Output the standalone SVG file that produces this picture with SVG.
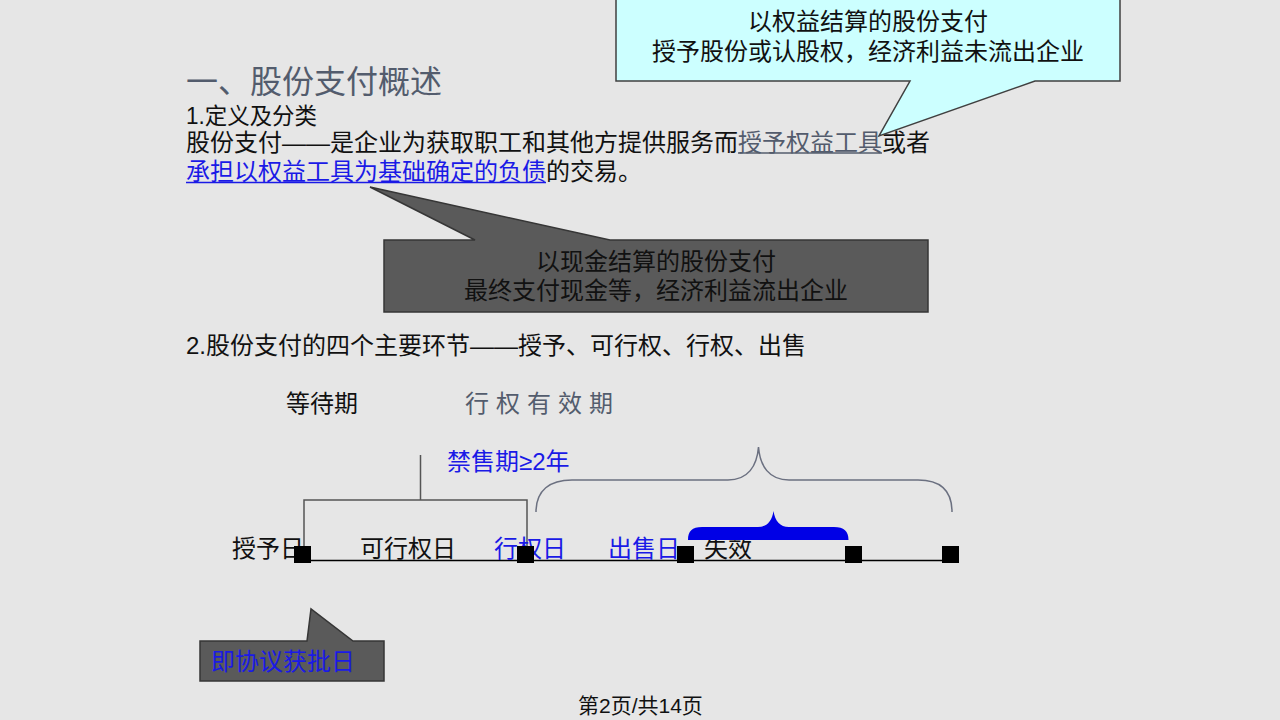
<svg xmlns="http://www.w3.org/2000/svg" width="1280" height="720" viewBox="0 0 1280 720">
<style>
text{font-family:"Liberation Sans","Noto Sans CJK SC",sans-serif;font-size:24px;fill:#111}
.slate{fill:#535c6d}
.blue{fill:#1a1ae6}
.ctr{text-anchor:middle}
.sq{fill:#000}
</style>
<rect x="0" y="0" width="1280" height="720" fill="#e6e6e6"/>

<g id="title">
<text x="186" y="93" class="slate" style="font-size:32px" textLength="256" lengthAdjust="spacingAndGlyphs">一、股份支付概述</text>
<text x="186" y="124" style="font-size:23px" textLength="131" lengthAdjust="spacingAndGlyphs">1.定义及分类</text>
<text x="186" y="151">股份支付——是企业为获取职工和其他方提供服务而<tspan class="slate">授予权益工具</tspan>或者</text>
<line x1="738" y1="153" x2="882" y2="153" stroke="#535c6d" stroke-width="1.5"/>
<text x="186" y="180"><tspan class="blue">承担以权益工具为基础确定的负债</tspan>的交易。</text>
<line x1="186" y1="182.5" x2="546" y2="182.5" stroke="#1a1ae6" stroke-width="1.5"/>
<text x="186" y="354">2.股份支付的四个主要环节——授予、可行权、行权、出售</text>
</g>

<g id="callout-equity">
<path d="M616,-2 L1120,-2 L1120,81 L1035,81 L879,136 L910,81 L616,81 Z" fill="#ccffff" stroke="#404040" stroke-width="1.5"/>
<text x="868" y="30" class="ctr">以权益结算的股份支付</text>
<text x="868" y="60" class="ctr">授予股份或认股权，经济利益未流出企业</text>
</g>

<g id="callout-cash">
<path d="M384,240 L475,240 L370,187 L610,240 L928,240 L928,312 L384,312 Z" fill="#5a5a5a" stroke="#363636" stroke-width="1.5"/>
<text x="656" y="270" class="ctr">以现金结算的股份支付</text>
<text x="656" y="299" class="ctr">最终支付现金等，经济利益流出企业</text>
</g>

<g id="period-labels">
<text x="286" y="412">等待期</text>
<text x="465" y="412" class="slate" style="letter-spacing:7px">行权有效期</text>
<text x="447" y="470" class="blue">禁售期≥2年</text>
</g>

<g id="connectors" fill="none">
<path d="M420.5,455 L420.5,500 M304,547 L304,500 L527,500 L527,547" stroke="#555" stroke-width="1.5"/>
<path d="M536,512 C536,490 550,480 572,480 L728,480 C748,480 757,466 758.5,447 C760,466 769,480 789,480 L918,480 C940,480 952,490 952,512" stroke="#6b7080" stroke-width="1.5"/>
<line x1="301" y1="560.5" x2="958" y2="560.5" stroke="#000" stroke-width="1.5"/>
</g>

<g id="timeline-labels">
<text x="232" y="557">授予日</text>
<text x="360" y="557">可行权日</text>
<text x="494" y="557" class="blue">行权日</text>
<text x="608" y="557" class="blue">出售日</text>
<text x="704" y="557">失效</text>
</g>

<g id="blue-brace">
<path d="M688,540 C688,531 692,527 702,527 L758,527 C767,527 772,521 773.5,511 C775,521 780,527 789,527 L834,527 C844,527 848.5,531 848.5,540 Z" fill="#0000e6"/>
</g>

<g id="markers">
<rect class="sq" x="294" y="546" width="17" height="17"/>
<rect class="sq" x="517" y="546" width="17" height="17"/>
<rect class="sq" x="677" y="546" width="17" height="17"/>
<rect class="sq" x="845" y="546" width="17" height="17"/>
<rect class="sq" x="942" y="546" width="17" height="17"/>
</g>

<g id="callout-grant">
<path d="M200,641 L307,641 L311,609 L353,641 L384,641 L384,681 L200,681 Z" fill="#5a5a5a" stroke="#363636" stroke-width="1.5"/>
<text x="211" y="670" class="blue">即协议获批日</text>
</g>

<g id="footer">
<text x="578" y="713" style="font-size:21px">第2页/共14页</text>
</g>
</svg>
